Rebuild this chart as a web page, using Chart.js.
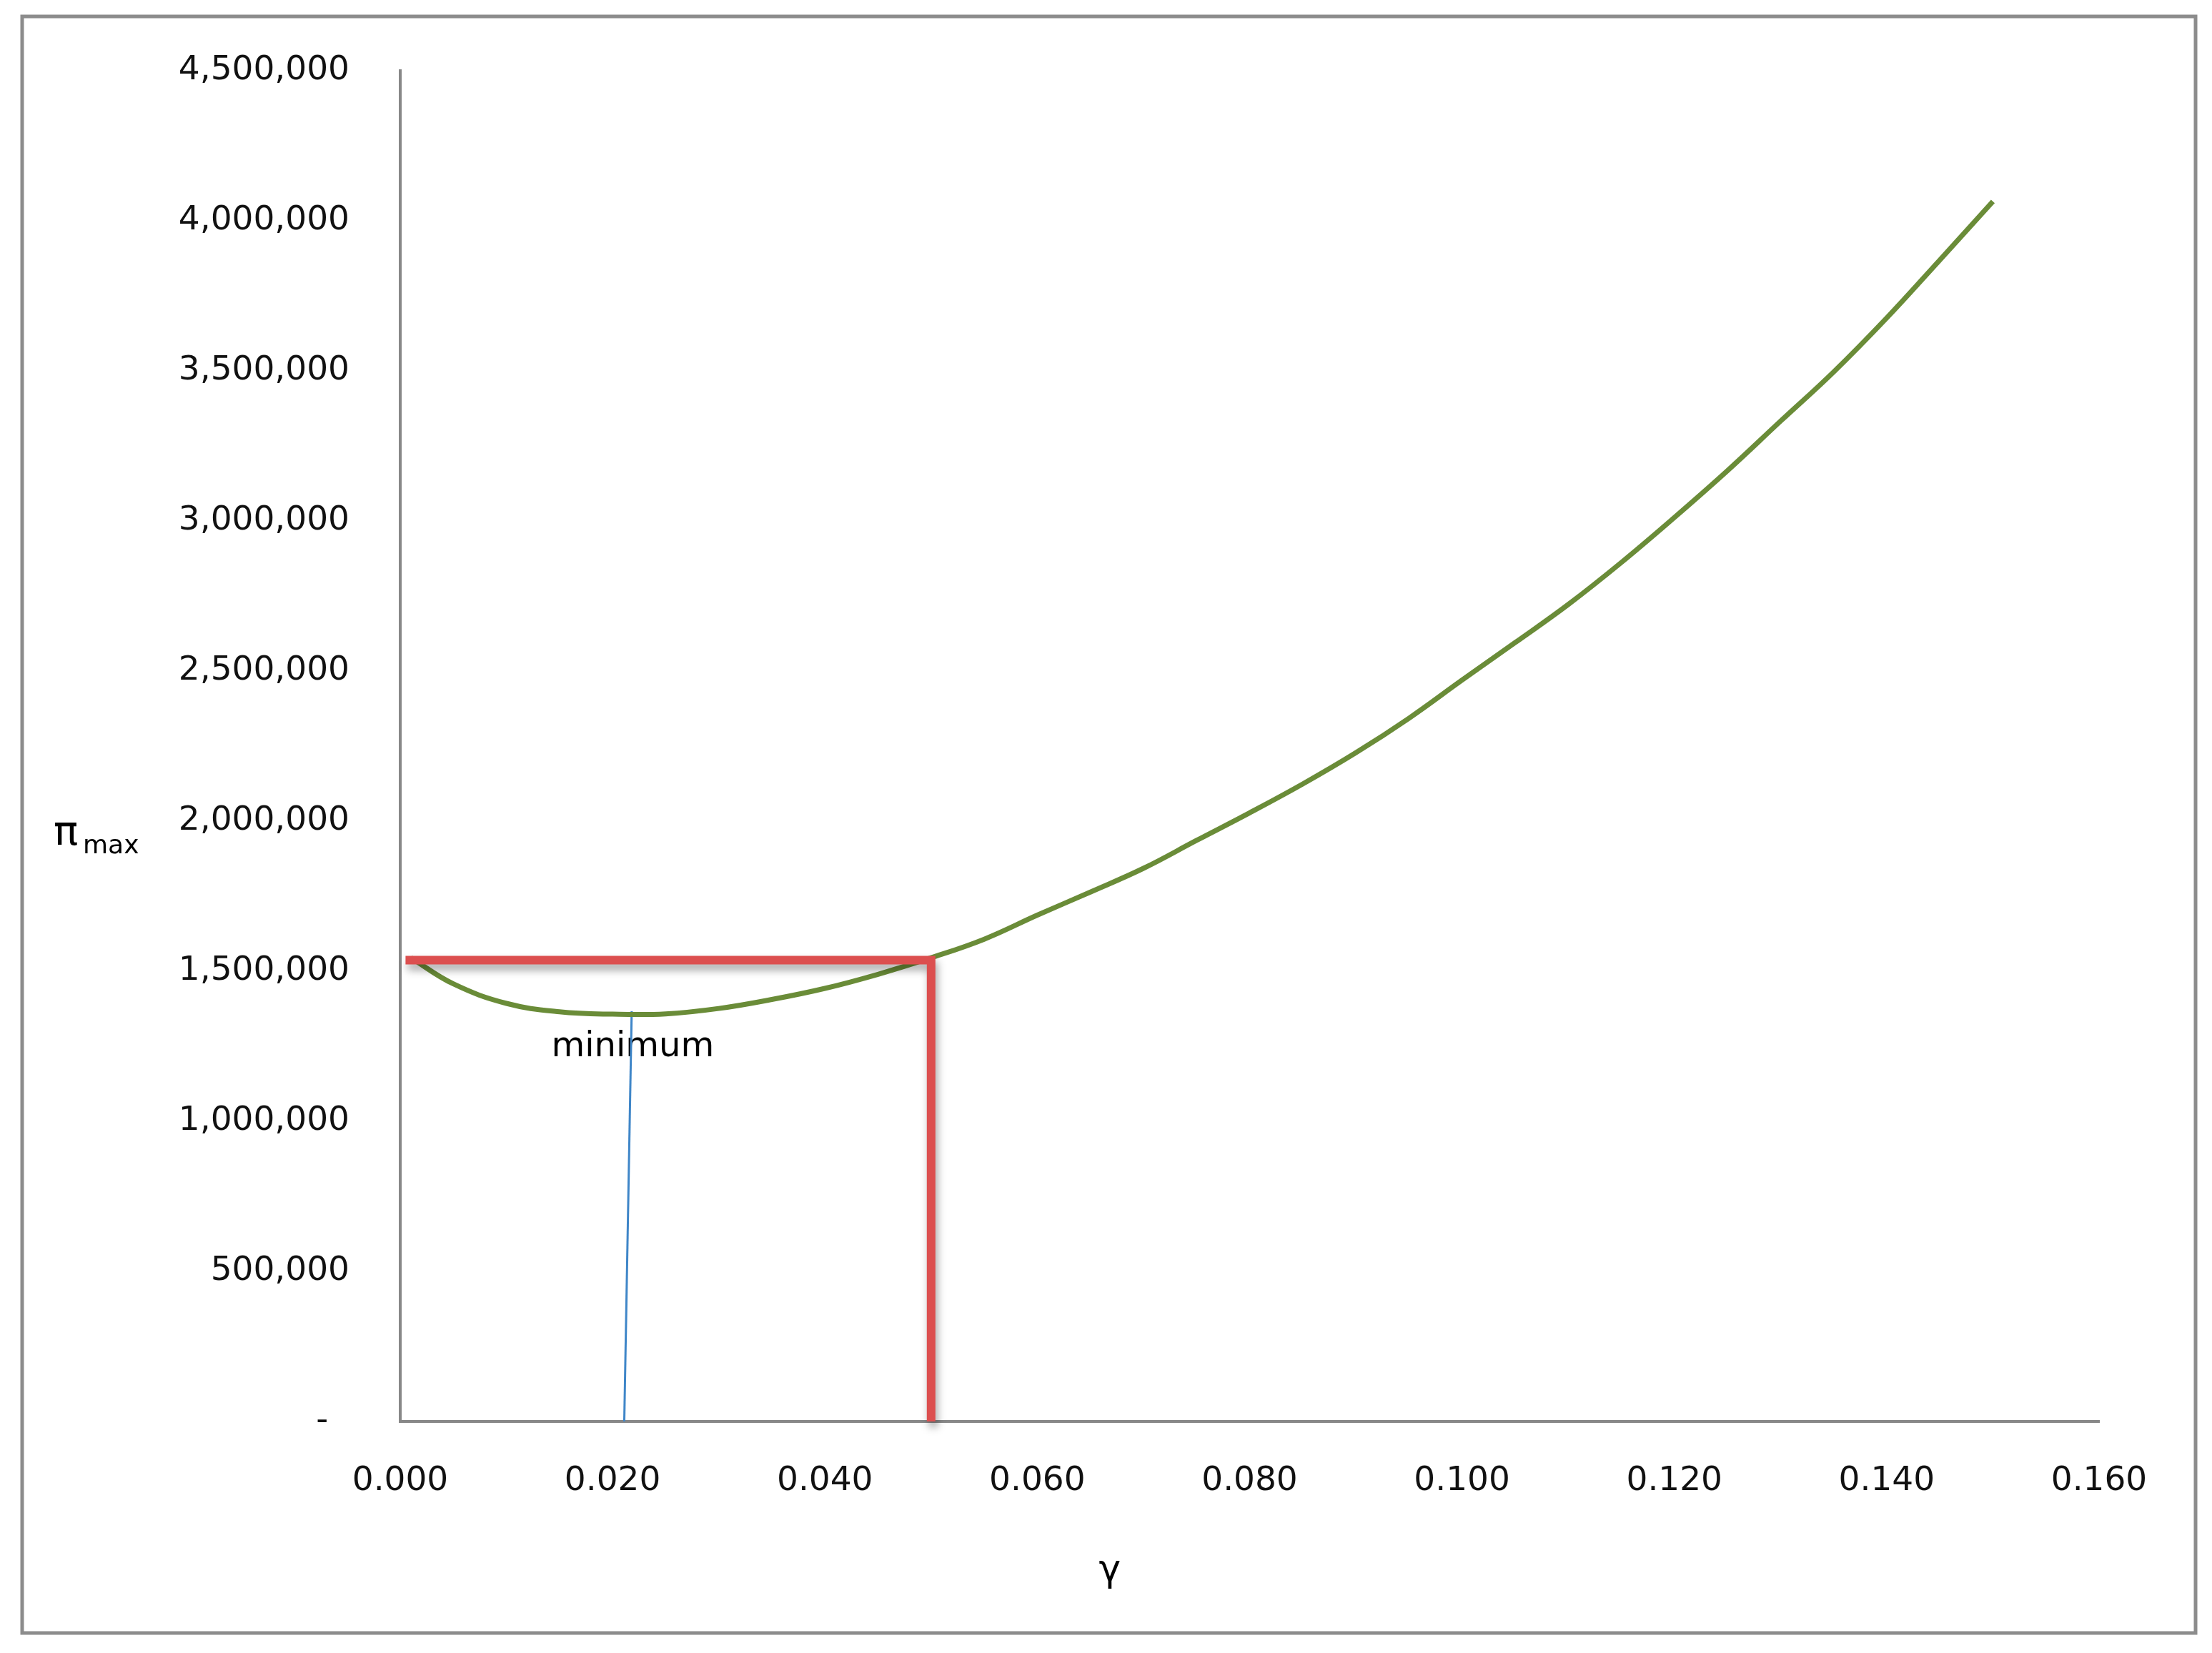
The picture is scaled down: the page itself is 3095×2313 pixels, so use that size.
<!DOCTYPE html>
<html>
<head>
<meta charset="utf-8">
<script src="https://cdn.jsdelivr.net/npm/chart.js@4.4.0/dist/chart.umd.min.js"></script>
<style>
  html, body { margin: 0; padding: 0; background: #ffffff; }
  canvas { display: block; }
</style>
</head>
<body>
<canvas id="piChart" width="3095" height="2313"></canvas>
<script>
// gamma values and pi_max
const gammaVals = [0.001, 0.005, 0.010, 0.015, 0.020, 0.025, 0.030, 0.035, 0.040, 0.045,
                   0.050, 0.055, 0.060, 0.065, 0.070, 0.075, 0.080, 0.085, 0.090, 0.095,
                   0.100, 0.105, 0.110, 0.115, 0.120, 0.125, 0.130, 0.135, 0.140, 0.145, 0.150];
const piMax = [1545000, 1458000, 1393000, 1365000, 1357000, 1358000, 1376000, 1406000, 1443000, 1490000,
               1545000, 1607000, 1687000, 1764000, 1843000, 1936000, 2028000, 2124000, 2228000, 2343000,
               2470000, 2595000, 2722000, 2862000, 3012000, 3168000, 3333000, 3497000, 3677000, 3870000, 4065000];

// red guide: level at gamma = 0.05 and the drop to the axis
const redGamma = [0.0005, 0.050, 0.050];
const redPi = [1537000, 1537000, 0];

// thin blue marker under the minimum
const minGamma = [0.0218, 0.0211];
const minPi = [1367000, 0];
const minLabel = 'minimum';
const minLabelAt = [0.0219, 1217000];

const xTicks = [0, 0.02, 0.04, 0.06, 0.08, 0.10, 0.12, 0.14, 0.16];
const yTicks = [0, 500000, 1000000, 1500000, 2000000, 2500000, 3000000, 3500000, 4000000, 4500000];

const toPoints = (xs, ys) => xs.map((x, i) => ({ x: x, y: ys[i] }));

const FONT = "'DejaVu Sans', sans-serif";

const decorations = {
    id: 'decorations',
    beforeDraw(chart) {
        const c = chart.ctx;
        c.save();
        c.fillStyle = '#ffffff';
        c.fillRect(0, 0, chart.width, chart.height);
        c.strokeStyle = '#8c8c8c';
        c.lineWidth = 5;
        c.strokeRect(31, 23, 3041, 2262);
        c.restore();
    },
    beforeDatasetsDraw(chart) {
        const c = chart.ctx;
        const xs = chart.scales.x, ys = chart.scales.y;
        c.save();
        c.fillStyle = '#000000';
        c.font = '48px ' + FONT;
        c.textAlign = 'center';
        c.textBaseline = 'alphabetic';
        c.fillText(minLabel, xs.getPixelForValue(minLabelAt[0]), ys.getPixelForValue(minLabelAt[1]));
        c.restore();
    },
    afterDraw(chart) {
        const c = chart.ctx;
        c.save();
        c.fillStyle = '#000000';
        c.textBaseline = 'alphabetic';
        // y title: pi with subscript max
        c.textAlign = 'left';
        c.font = '57px ' + FONT;
        c.fillText('\u03c0', 75, 1182);
        c.font = '36px ' + FONT;
        c.fillText('max', 116, 1194);
        // x title
        c.textAlign = 'center';
        c.font = '52px ' + FONT;
        c.fillText('\u03b3', 1553, 2212);
        c.restore();
    },
    beforeDatasetDraw(chart, args) {
        if (args.index === 0) {
            const c = chart.ctx;
            c.save();
            c.shadowColor = 'rgba(0, 0, 0, 0.35)';
            c.shadowBlur = 12;
            c.shadowOffsetX = 3;
            c.shadowOffsetY = 8;
        }
    },
    afterDatasetDraw(chart, args) {
        if (args.index === 0) {
            chart.ctx.restore();
        }
    }
};

const ctx = document.getElementById('piChart').getContext('2d');
const piChart = new Chart(ctx, {
    type: 'line',
    data: {
        datasets: [{
            label: 'guide',
            data: toPoints(redGamma, redPi),
            borderColor: '#dc4f4f',
            borderWidth: 12,
            borderJoinStyle: 'miter',
            borderCapStyle: 'butt',
            pointRadius: 0,
            tension: 0,
            clip: false
        }, {
            label: 'pi max',
            data: toPoints(gammaVals, piMax),
            borderColor: '#6a8c38',
            borderWidth: 7,
            pointRadius: 0,
            tension: 0.4
        }, {
            label: 'minimum',
            data: toPoints(minGamma, minPi),
            borderColor: '#3f86c8',
            borderWidth: 3,
            pointRadius: 0,
            tension: 0
        }]
    },
    options: {
        responsive: false,
        devicePixelRatio: 1,
        animation: false,
        layout: {
            padding: { top: 85, right: 158, left: 0, bottom: 0 }
        },
        plugins: {
            legend: { display: false },
            tooltip: { enabled: false }
        },
        scales: {
            x: {
                type: 'linear',
                min: 0,
                max: 0.16,
                afterBuildTicks: (scale) => { scale.ticks = xTicks.map(v => ({ value: v })); },
                afterFit: (scale) => { scale.height = 324; },
                grid: { display: false, drawTicks: false },
                border: { display: true, color: '#888888', width: 4 },
                ticks: {
                    autoSkip: false,
                    maxRotation: 0,
                    padding: 56,
                    color: '#111111',
                    font: { family: FONT, size: 47 },
                    callback: (v) => Number(v).toFixed(3)
                }
            },
            y: {
                type: 'linear',
                min: 0,
                max: 4500000,
                afterBuildTicks: (scale) => { scale.ticks = yTicks.map(v => ({ value: v })); },
                afterFit: (scale) => { scale.width = 560; },
                grid: { display: false, drawTicks: false },
                border: { display: true, color: '#888888', width: 4 },
                ticks: {
                    padding: 71,
                    color: '#111111',
                    font: { family: FONT, size: 47 },
                    callback: (v) => v === 0 ? '-  ' : Number(v).toLocaleString('en-US')
                }
            }
        }
    },
    plugins: [decorations]
});
</script>
</body>
</html>
